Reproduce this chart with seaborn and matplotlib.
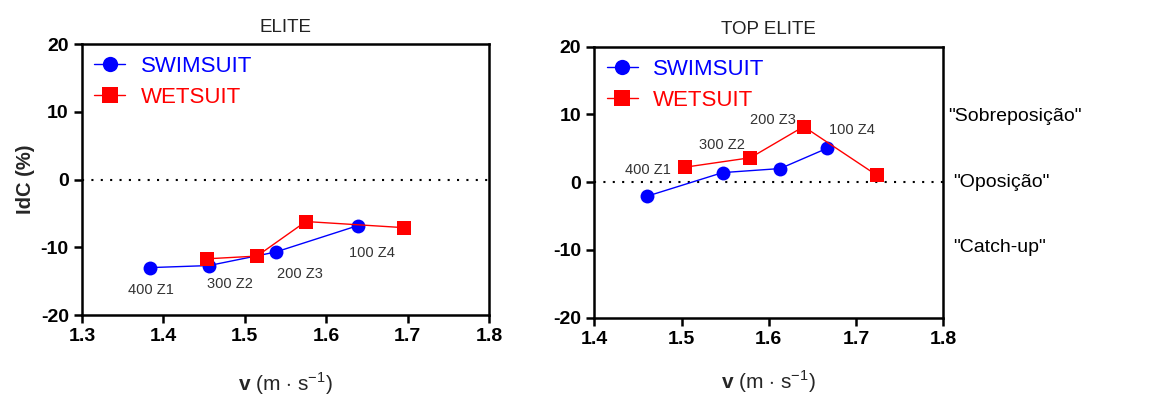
import seaborn as sns
import matplotlib.pyplot as plt
import pandas as pd

# data
elite_swim_v = [1.384, 1.456, 1.538, 1.639]
elite_swim_idc = [-13.0, -12.7, -10.7, -6.8]
elite_wet_v = [1.454, 1.515, 1.575, 1.695]
elite_wet_idc = [-11.7, -11.3, -6.2, -7.1]

top_swim_v = [1.460, 1.547, 1.613, 1.667]
top_swim_idc = [-2.1, 1.4, 2.0, 5.0]
top_wet_v = [1.504, 1.579, 1.640, 1.724]
top_wet_idc = [2.2, 3.6, 8.2, 1.0]

zones = ['400 Z1', '300 Z2', '200 Z3', '100 Z4']
elite_label_xy = [(1.385, -16.3), (1.482, -15.4), (1.568, -14.0), (1.656, -10.9)]
top_label_xy = [(1.461, 1.8), (1.546, 5.5), (1.605, 9.1), (1.695, 7.7)]

regimes = ['"Sobreposição"', '"Oposição"', '"Catch-up"']
regime_y = [9.7, 0, -9.6]


def make_df(sv, si, wv, wi):
    a = pd.DataFrame({'v': sv, 'idc': si, 'suit': 'SWIMSUIT'})
    b = pd.DataFrame({'v': wv, 'idc': wi, 'suit': 'WETSUIT'})
    return pd.concat([a, b], ignore_index=True)


sns.set_style('ticks')
plt.rcParams['font.family'] = ['Liberation Sans', 'DejaVu Sans']
plt.rcParams['axes.unicode_minus'] = False
plt.rcParams['mathtext.fontset'] = 'custom'
plt.rcParams['mathtext.rm'] = 'Liberation Sans'
plt.rcParams['mathtext.bf'] = 'Liberation Sans:bold'

fig = plt.figure(figsize=(11.69, 3.97), dpi=100, facecolor='white')
ax1 = fig.add_axes([0.0701, 0.2065, 0.3482, 0.6826])
ax2 = fig.add_axes([0.5084, 0.200, 0.2985, 0.6826])

pal = {'SWIMSUIT': '#0000ff', 'WETSUIT': '#ff0000'}
marks = {'SWIMSUIT': 'o', 'WETSUIT': 's'}

panels = [
    (ax1, make_df(elite_swim_v, elite_swim_idc, elite_wet_v, elite_wet_idc),
     'ELITE', (1.3, 1.8), elite_label_xy, 18),
    (ax2, make_df(top_swim_v, top_swim_idc, top_wet_v, top_wet_idc),
     'TOP ELITE', (1.4, 1.8), top_label_xy, 15),
]

for ax, df, title, xlim, lab_xy, xpad in panels:
    ax.axhline(0, color='black', ls=(0, (1, 3.5)), lw=1.5, zorder=1)
    sns.lineplot(data=df, x='v', y='idc', hue='suit', style='suit',
                 palette=pal, markers=marks, dashes=False, estimator=None,
                 sort=False, lw=1, markersize=10, markeredgewidth=0, ax=ax)
    for z, (x, y) in zip(zones, lab_xy):
        ax.text(x, y, z, ha='center', va='center', fontsize=10.5, color='#333333')
    ax.set_xlim(*xlim)
    ax.set_ylim(-20, 20)
    ax.set_yticks([-20, -10, 0, 10, 20])
    n = int(round((xlim[1] - xlim[0]) / 0.1))
    ax.set_xticks([round(xlim[0] + 0.1 * i, 1) for i in range(n + 1)])
    ax.set_title(title, fontsize=13.5, color='#222222', pad=9)
    ax.set_xlabel(r'$\mathbf{v}$ (m $\cdot$ s$^{-1}$)', fontsize=15, labelpad=xpad)
    ax.set_ylabel('')
    for sp in ax.spines.values():
        sp.set_visible(True)
        sp.set_linewidth(1.8)
        sp.set_color('black')
    ax.tick_params(axis='both', direction='out', length=6, width=1.8,
                   labelsize=14, colors='black')
    for t in ax.get_xticklabels() + ax.get_yticklabels():
        t.set_fontweight('bold')
    handles, labels = ax.get_legend_handles_labels()
    for h in handles:
        h.set_markersize(11)
    ax.legend(handles, labels, loc='upper left', frameon=False, fontsize=16,
              labelcolor='linecolor', handlelength=1.4, handletextpad=0.7,
              labelspacing=0.45, borderaxespad=0.35, borderpad=0.2)

ax1.set_ylabel('IdC (%)', fontsize=14.5, fontweight='bold', labelpad=4)

for r, y, dx in zip(regimes, regime_y, [5, 10, 10]):
    ax2.annotate(r, xy=(1.0, y), xycoords=ax2.get_yaxis_transform(),
                 xytext=(dx, 0), textcoords='offset pixels',
                 ha='left', va='center', fontsize=14, color='black')

fig.savefig('out.png', dpi=100, facecolor='white')
